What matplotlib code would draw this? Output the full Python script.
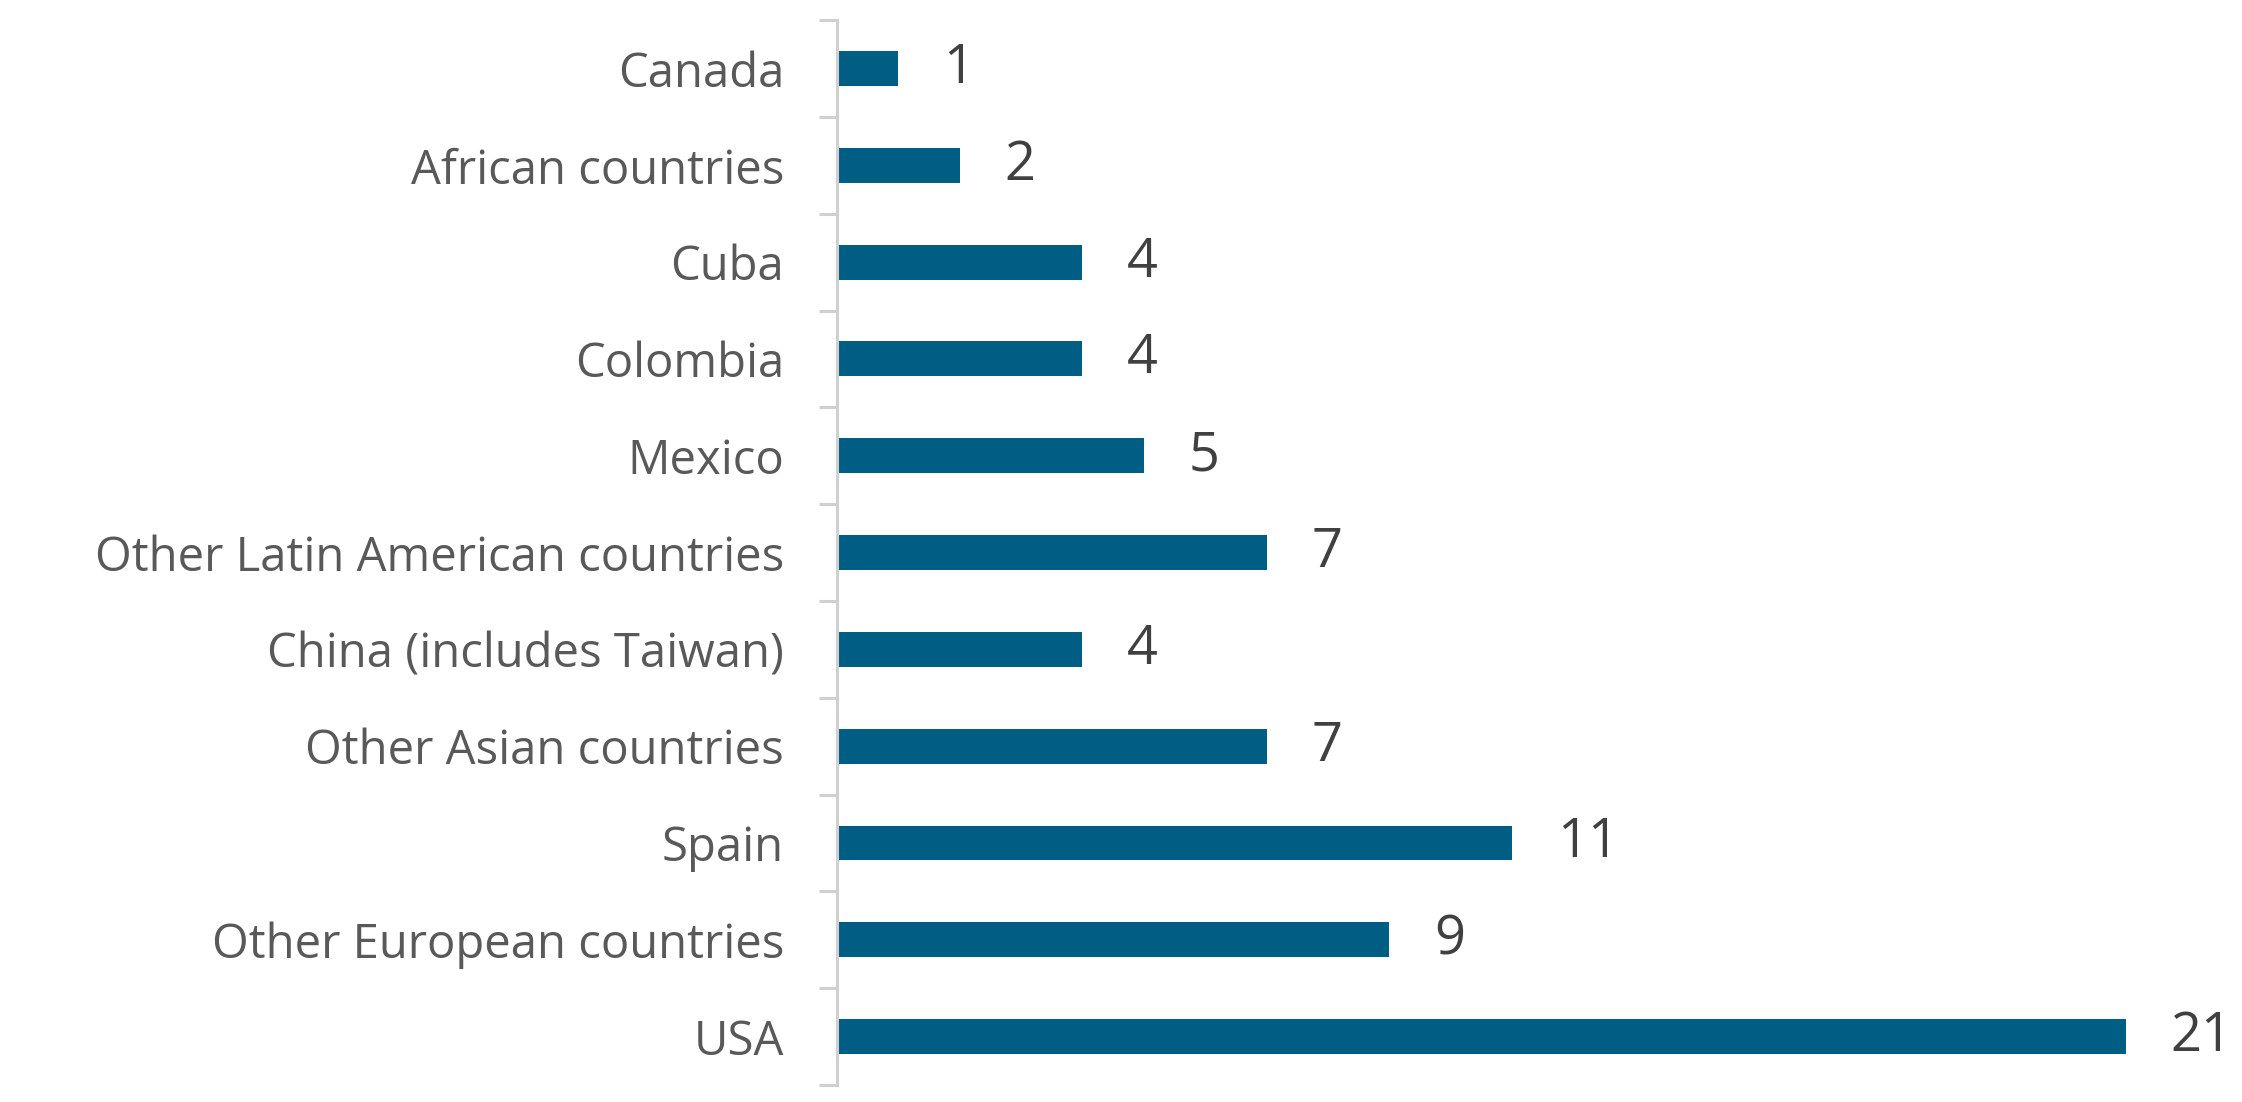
import numpy as np
import matplotlib
matplotlib.use("Agg")
import matplotlib.pyplot as plt

# bottom to top, as drawn
countries = [
    "USA",
    "Other European countries",
    "Spain",
    "Other Asian countries",
    "China (includes Taiwan)",
    "Other Latin American countries",
    "Mexico",
    "Colombia",
    "Cuba",
    "African countries",
    "Canada",
]
counts = [21, 9, 11, 7, 4, 7, 5, 4, 4, 2, 1]

BAR_COLOR = "#005E85"
AXIS_COLOR = "#D0D0D0"

plt.rcParams["font.family"] = ["Open Sans", "DejaVu Sans"]

fig = plt.figure(figsize=(11.21, 5.51), dpi=200)
ax = fig.add_axes([0.3733, 0.0154, 0.5750, 0.9664])

y = np.arange(len(countries))
ax.barh(y, counts, height=0.36, color=BAR_COLOR)

for yi, val in zip(y, counts):
    ax.annotate(str(val), (val, yi), xytext=(16, 0), textcoords="offset points",
                ha="left", va="center", fontsize=19.5, color="#404040")

ax.set_xlim(0, 21)
ax.set_ylim(-0.5, len(countries) - 0.5)

ax.set_yticks(y)
ax.set_yticklabels(countries, fontsize=17, color="#595959")
ax.tick_params(axis="y", which="major", length=0, pad=19)
ax.set_yticks(np.arange(-0.5, len(countries)), minor=True)
ax.tick_params(axis="y", which="minor", length=6.5, width=1.1, color=AXIS_COLOR)

ax.set_xticks([])
for side in ["top", "right", "bottom"]:
    ax.spines[side].set_visible(False)
ax.spines["left"].set_color(AXIS_COLOR)
ax.spines["left"].set_linewidth(1.1)

fig.savefig("out.png", dpi=200)
